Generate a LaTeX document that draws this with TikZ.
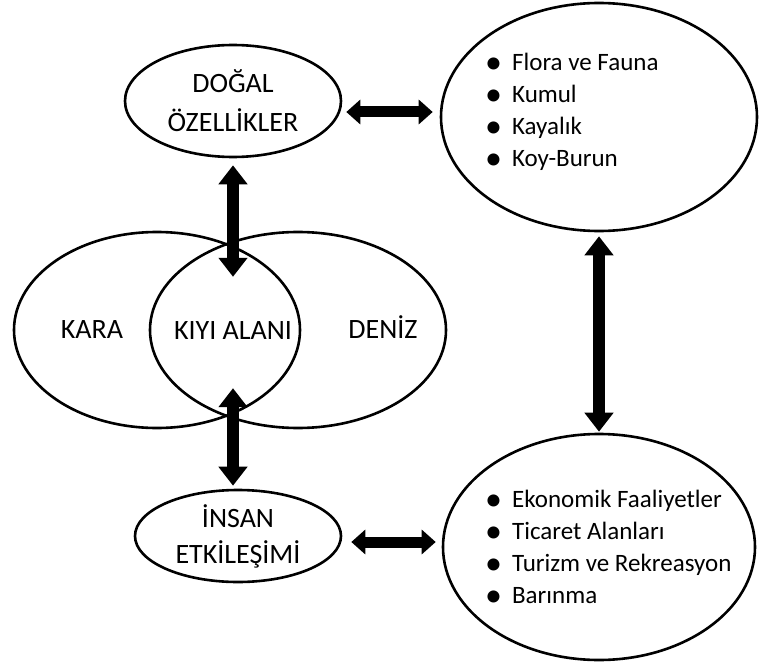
\documentclass[tikz,border=0pt]{standalone}
\usepackage{fontspec}
\setmainfont{Carlito}
\usetikzlibrary{shapes.geometric,arrows.meta}

\newcommand{\bigdot}{\raisebox{-2.5pt}{\fontsize{34}{32}\selectfont\textbullet}\hspace{10pt}}

\tikzset{
  oval/.style={draw=black, line width=2.6pt, ellipse, inner sep=0pt},
  word/.style={inner sep=0pt, font=\fontsize{28}{39}\selectfont, text height=18pt, text depth=0pt},
  listing/.style={inner sep=0pt, align=left, anchor=north west, font=\fontsize{25}{32}\selectfont},
  harrow/.style={line width=11pt, {Triangle[width=24pt,length=14pt]}-{Triangle[width=24pt,length=14pt]}},
  varrow/.style={line width=12pt, {Triangle[width=28pt,length=19pt]}-{Triangle[width=28pt,length=19pt]}},
}

\begin{document}
\begin{tikzpicture}[x=1pt, y=-1pt]
\useasboundingbox (0,0) rectangle (760,666);

% upper left
\node [oval, minimum width=216pt, minimum height=112pt, align=center,
       font=\fontsize{28}{39}\selectfont] (dogal) at (233,101) {DOĞAL\\ÖZELLİKLER};

% upper right
\node [oval, minimum width=316pt, minimum height=228pt] (flora) at (599,117) {};
\node [listing] (floralist) at (485,53) {%
  \bigdot Flora ve Fauna\\
  \bigdot Kumul\\
  \bigdot Kayalık\\
  \bigdot Koy-Burun};

% venn
\node [oval, minimum width=286pt, minimum height=196pt] (kara) at (157,330) {};
\node [oval, minimum width=296pt, minimum height=196pt] (deniz) at (298,330) {};
\node [word] (karatag) at (92,329) {KARA};
\node [word] (deniztag) at (383,329) {DENİZ};
\node [word, minimum height=106pt] (kiyi) at (233,330) {KIYI ALANI};

% lower left
\node [oval, minimum width=206pt, minimum height=92pt, align=center,
       font=\fontsize{28}{36}\selectfont] (insan) at (238,536) {İNSAN\\ETKİLEŞİMİ};

% lower right
\node [oval, minimum width=312pt, minimum height=226pt] (ekon) at (599,547) {};
\node [listing] (ekonlist) at (485,490) {%
  \bigdot Ekonomik Faaliyetler\\
  \bigdot Ticaret Alanları\\
  \bigdot Turizm ve Rekreasyon\\
  \bigdot Barınma};

% arrows
\draw [harrow, shorten <=4pt, shorten >=7pt]
  ([yshift=-11pt]dogal.east) -- ([yshift=-11pt]dogal.east -| flora.west);
\draw [varrow, shorten <=7pt] (dogal.south) -- (kiyi.north);
\draw [varrow, shorten <=5pt, shorten >=3pt] (kiyi.south) -- (kiyi.south |- insan.north);
\draw [harrow, shorten <=9pt, shorten >=6pt]
  ([yshift=-6pt]insan.east) -- ([yshift=-6pt]insan.east -| ekon.west);
\draw [varrow, shorten <=4pt, shorten >=1pt] (flora.south) -- (ekon.north);

\end{tikzpicture}
\end{document}
